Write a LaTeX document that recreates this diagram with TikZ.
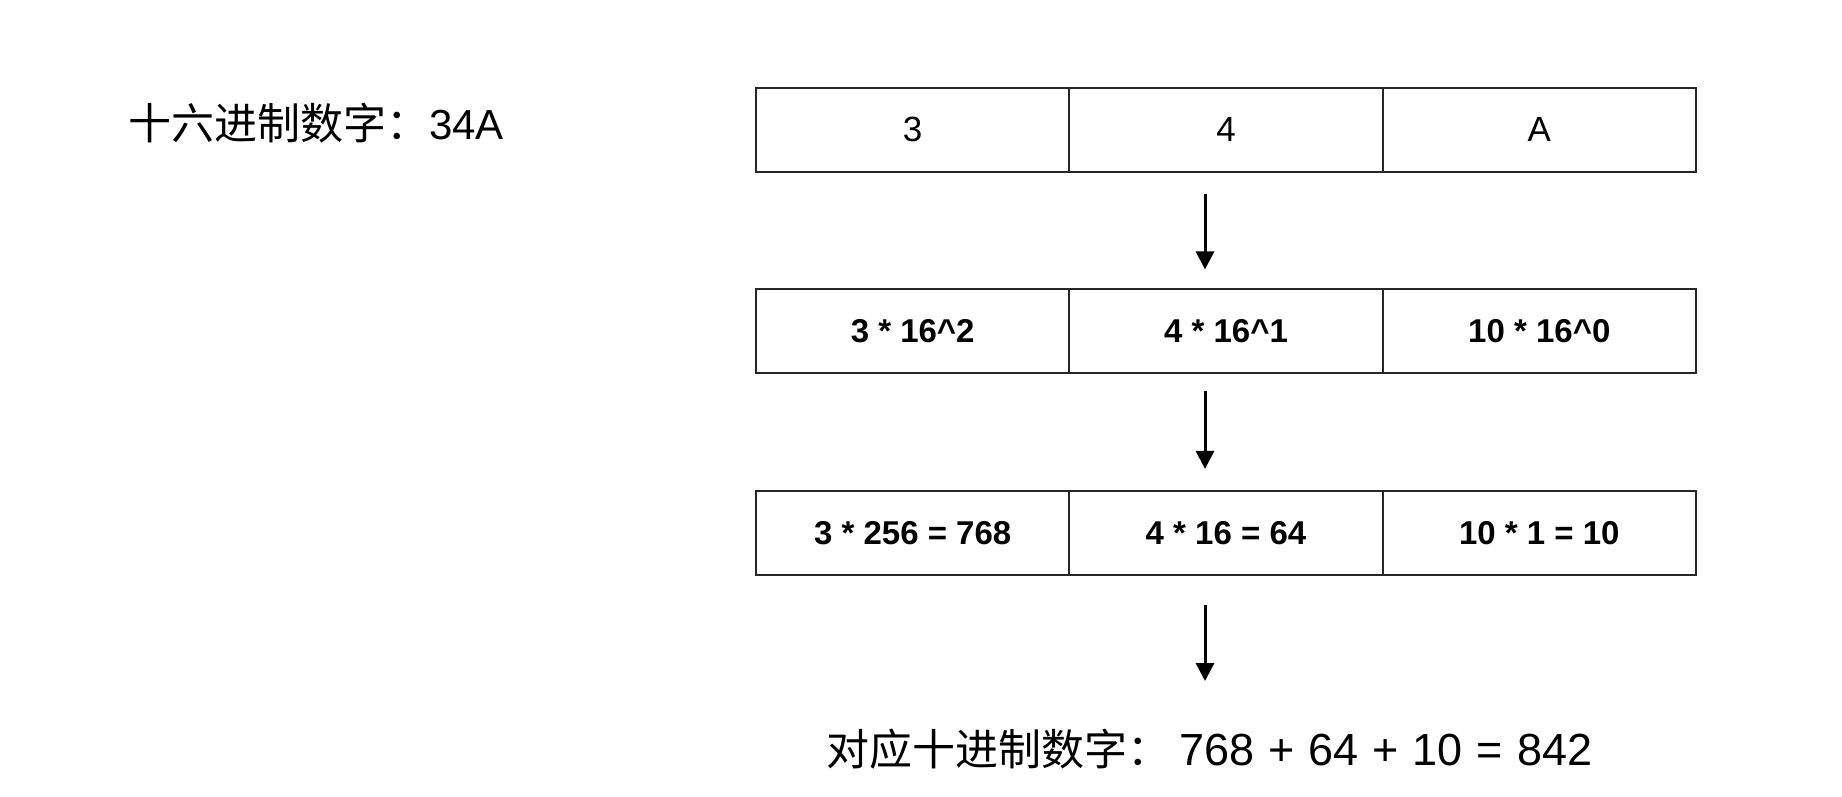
\documentclass[tikz,border=0pt]{standalone}
\usepackage{fontspec}
\setmainfont{Liberation Sans}
\newfontfamily\cjk{Noto Sans CJK SC}
\usetikzlibrary{arrows.meta}
\begin{document}
\begin{tikzpicture}[x=1pt,y=-1pt,
  cell/.style={draw=black!85, line width=1.8pt, minimum width=313.3pt, minimum height=84pt, inner sep=0pt, font=\fontsize{33}{40}\selectfont\bfseries},
  cellr/.style={cell, font=\fontsize{35}{42}\selectfont},
  flow/.style={line width=3pt, -{Triangle[length=18pt,width=18pt]}},
  lbl/.style={inner sep=0pt, anchor=west}]
\useasboundingbox (0,0) rectangle (1842,796);
\fill[white] (0,0) rectangle (1842,796);

\node[lbl] (hex) at (128,123) {\fontsize{43}{50}\selectfont\cjk 十六进制数字：\fontsize{42}{50}\selectfont\rmfamily 34A};

\node[cellr] (a1) at (912.7,129.8) {3};
\node[cellr] (a2) at (1226,129.8) {4};
\node[cellr] (a3) at (1539.3,129.8) {A};

\node[cell] (b1) at (912.7,331.3) {3 * 16\^{}2};
\node[cell] (b2) at (1226,331.3) {4 * 16\^{}1};
\node[cell] (b3) at (1539.3,331.3) {10 * 16\^{}0};

\node[cell] (c1) at (912.7,532.8) {3 * 256 = 768};
\node[cell] (c2) at (1226,532.8) {4 * 16 = 64};
\node[cell] (c3) at (1539.3,532.8) {10 * 1 = 10};

\node[lbl] (dec) at (826,749) {\fontsize{43}{50}\selectfont\cjk 对应十进制数字：\hspace{9pt}\fontsize{45}{50}\selectfont\rmfamily\spaceskip=14pt 768 + 64 + 10 = 842};

\coordinate (e3) at (1205,681);

\draw[flow] ([xshift=-21pt,yshift=-21pt]a2.south) -- ([xshift=-21pt,yshift=19pt]b2.north);
\draw[flow] ([xshift=-21pt,yshift=-17pt]b2.south) -- ([xshift=-21pt,yshift=21pt]c2.north);
\draw[flow] ([xshift=-21pt,yshift=-29.5pt]c2.south) -- (e3);
\end{tikzpicture}
\end{document}
